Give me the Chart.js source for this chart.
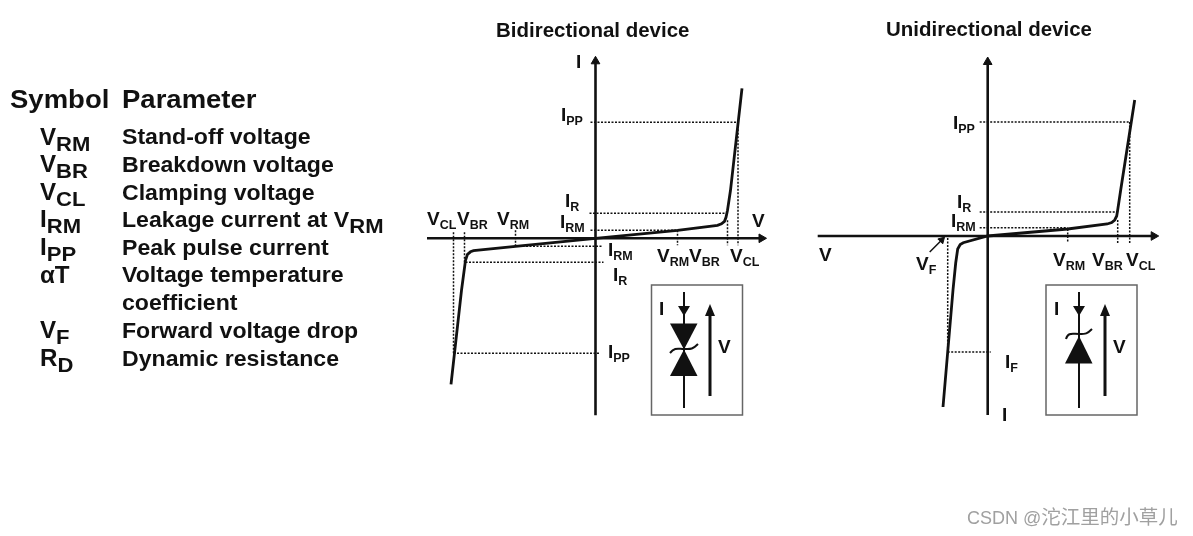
<!DOCTYPE html>
<html>
<head>
<meta charset="utf-8">
<script src="https://cdn.jsdelivr.net/npm/chart.js@4"></script>
<style>
body{margin:0;background:#fff;width:1193px;height:536px;overflow:hidden;position:relative;font-family:"Liberation Sans",Arial,sans-serif;color:#111}
canvas{position:absolute}
svg{position:absolute;left:0;top:0}
.t{position:absolute;font-weight:bold;line-height:1;white-space:nowrap;transform-origin:left center;transform:translateY(-.8465em)}
.t span{position:relative}
.h,.p,.s,.ti{transform:translateY(-.8465em) scaleX(1.05)}
.h{font-size:26.2px}
.p{font-size:22px}
.p span{font-size:21px;top:6px}
.s{font-size:23px}
.s span{font-size:21px;top:6px}
.l{font-size:19px}
.l span{font-size:12.5px;top:4px}
.ti{font-size:19.5px}
.wm{position:absolute;left:967px;top:504px;font-family:"Liberation Sans",sans-serif;font-size:18px;line-height:24px;color:#a0a0a0;white-space:nowrap}
.wm span{font-family:"Noto Sans CJK SC",sans-serif;font-size:19.5px}
</style>
</head>
<body>
<canvas id="bi" width="360" height="390" style="left:420px;top:40px"></canvas>
<canvas id="uni" width="370" height="390" style="left:800px;top:40px"></canvas>

<svg width="1193" height="536">
  <g fill="none" stroke="#666" stroke-width="1.5">
    <rect x="651.5" y="285" width="91" height="130"/>
    <rect x="1046" y="285" width="91" height="130"/>
  </g>
  <g stroke="#111" stroke-width="2" fill="none">
    <path d="M684 292V408M670 353C675 347 678 349 684 349S692 350 698 344"/>
    <path d="M1079 292V408M1066 339C1068 332 1072 334 1079 334S1087 334 1092 329"/>
  </g>
  <g stroke="#111" stroke-width="3">
    <path d="M710 396V312M1105 396V312"/>
  </g>
  <g fill="#111">
    <path d="M678 306H690L684 316Z"/>
    <path d="M670 323.5H697.5L684 349.5Z"/>
    <path d="M670 376H697.5L684 349.5Z"/>
    <path d="M710 304L715 316H705Z"/>
    <path d="M1073 306H1085L1079 316Z"/>
    <path d="M1065 363.5H1092.5L1079 336Z"/>
    <path d="M1105 304L1110 316H1100Z"/>
  </g>
</svg>

<!-- parameter table -->
<div class="t h" style="left:10px;top:108px">Symbol</div>
<div class="t h" style="left:122px;top:108px">Parameter</div>
<div class="t s" style="left:40px;top:145px">V<span>RM</span></div>
<div class="t s" style="left:40px;top:172px">V<span>BR</span></div>
<div class="t s" style="left:40px;top:200px">V<span>CL</span></div>
<div class="t s" style="left:40px;top:227px">I<span>RM</span></div>
<div class="t s" style="left:40px;top:255px">I<span>PP</span></div>
<div class="t s" style="left:40px;top:283px">αT</div>
<div class="t s" style="left:40px;top:338px">V<span>F</span></div>
<div class="t s" style="left:40px;top:366px">R<span>D</span></div>
<div class="t p" style="left:122px;top:145px">Stand-off voltage</div>
<div class="t p" style="left:122px;top:173px">Breakdown voltage</div>
<div class="t p" style="left:122px;top:201px">Clamping voltage</div>
<div class="t p" style="left:122px;top:228px">Leakage current at V<span>RM</span></div>
<div class="t p" style="left:122px;top:256px">Peak pulse current</div>
<div class="t p" style="left:122px;top:283px">Voltage temperature</div>
<div class="t p" style="left:122px;top:311px">coefficient</div>
<div class="t p" style="left:122px;top:339px">Forward voltage drop</div>
<div class="t p" style="left:122px;top:367px">Dynamic resistance</div>

<!-- bidirectional labels -->
<div class="t ti" style="left:496px;top:38px">Bidirectional device</div>
<div class="t l" style="left:576px;top:68px">I</div>
<div class="t l" style="left:561px;top:121px">I<span>PP</span></div>
<div class="t l" style="left:565px;top:207px">I<span>R</span></div>
<div class="t l" style="left:560px;top:228px">I<span>RM</span></div>
<div class="t l" style="left:752px;top:227px">V</div>
<div class="t l" style="left:427px;top:225px">V<span>CL</span></div>
<div class="t l" style="left:457px;top:225px">V<span>BR</span></div>
<div class="t l" style="left:497px;top:225px">V<span>RM</span></div>
<div class="t l" style="left:608px;top:256px">I<span>RM</span></div>
<div class="t l" style="left:613px;top:281px">I<span>R</span></div>
<div class="t l" style="left:657px;top:262px">V<span>RM</span></div>
<div class="t l" style="left:689px;top:262px">V<span>BR</span></div>
<div class="t l" style="left:730px;top:262px">V<span>CL</span></div>
<div class="t l" style="left:608px;top:358px">I<span>PP</span></div>
<div class="t l" style="left:659px;top:315px">I</div>
<div class="t l" style="left:718px;top:353px">V</div>

<!-- unidirectional labels -->
<div class="t ti" style="left:886px;top:37px">Unidirectional device</div>
<div class="t l" style="left:953px;top:129px">I<span>PP</span></div>
<div class="t l" style="left:957px;top:208px">I<span>R</span></div>
<div class="t l" style="left:951px;top:227px">I<span>RM</span></div>
<div class="t l" style="left:819px;top:261px">V</div>
<div class="t l" style="left:916px;top:270px">V<span>F</span></div>
<div class="t l" style="left:1053px;top:266px">V<span>RM</span></div>
<div class="t l" style="left:1092px;top:266px">V<span>BR</span></div>
<div class="t l" style="left:1126px;top:266px">V<span>CL</span></div>
<div class="t l" style="left:1005px;top:368px">I<span>F</span></div>
<div class="t l" style="left:1002px;top:421px">I</div>
<div class="t l" style="left:1054px;top:315px">I</div>
<div class="t l" style="left:1113px;top:353px">V</div>

<div class="wm">CSDN @<span>沱江里的小草儿</span></div>

<script>
// curves, V to the right, I upward
const biCurveV = [-144.5, -134, -130, -128, -125, -122, -80, 0, 82, 122, 126, 129, 130.5, 132, 135, 146.5];
const biCurveI = [-146, -52, -22, -16, -13.5, -12.4, -8, 0, 8, 13, 14.5, 17, 21, 28, 48, 150];
const uniCurveV = [-44.7, -34.7, -32, -30, -27.5, -24.5, 0, 80, 119.5, 124, 127, 129, 130, 133, 147];
const uniCurveI = [-171, -54, -27, -13, -8.5, -6.7, 0, 7, 12, 13.5, 16, 20, 26, 46, 136];

// dotted guides as v1, i1, v2, i2
const biGuides = [
  [-5, 116, 142.5, 116],
  [-6, 25, 132, 25],
  [-5, 8, 82, 8],
  [-80, -8, 7, -8],
  [-130, -24, 8, -24],
  [-142, -115, 5, -115],
  [-142, 6, -142, -115],
  [-131, 6, -131, -24],
  [-80, 8, -80, -8],
  [82, 8, 82, -7],
  [132, 18, 132, -7],
  [142.5, 116, 142.5, -7]
];
const uniGuides = [
  [-8, 114, 143, 114],
  [-8, 24, 130, 24],
  [-8, 8.3, 80, 8.3],
  [80, 7, 80, -7],
  [130, 16, 130, -7],
  [142, 114, 142, -7],
  [-40, -2, -40, -116],
  [-40, -116, 3, -116]
];

const biAxisV = [-168.5, 170], biAxisI = [-177, 181];
const uniAxisV = [-170, 170], uniAxisI = [-179, 178];
const vfPointerV = [-58, -46], vfPointerI = [-16, -4];

function pairs(xs, ys) {
  return xs.map((x, i) => ({x: x, y: ys[i]}));
}

function line(data, width, dash) {
  return {data: data, showLine: true, borderColor: '#111', borderWidth: width, borderDash: dash || [], pointRadius: 0, tension: 0, fill: false};
}

function drawDevice(id, curveV, curveI, guides, axisV, axisI, range, extra) {
  const sets = [
    line([{x: axisV[0], y: 0}, {x: axisV[1] - 4, y: 0}], 2.6),
    line([{x: 0, y: axisI[0]}, {x: 0, y: axisI[1] - 4}], 2.6),
    line(pairs(curveV, curveI), 2.8),
    {
      data: [{x: axisV[1] - 4, y: 0}, {x: 0, y: axisI[1] - 4}],
      showLine: false, pointStyle: 'triangle', pointRadius: 5,
      pointRotation: [90, 0], backgroundColor: '#111', borderColor: '#111', borderWidth: 1
    }
  ];
  guides.forEach(g => {
    sets.push(line([{x: g[0], y: g[1]}, {x: g[2], y: g[3]}], 1.5, [2, 1.5]));
  });
  new Chart(document.getElementById(id), {
    type: 'scatter',
    data: {datasets: sets.concat(extra || [])},
    options: {
      responsive: false,
      animation: false,
      layout: {padding: 0, autoPadding: false},
      plugins: {legend: {display: false}, tooltip: {enabled: false}},
      scales: {
        x: {type: 'linear', display: false, min: range[0], max: range[1]},
        y: {type: 'linear', display: false, min: range[2], max: range[3]}
      }
    }
  });
}

drawDevice('bi', biCurveV, biCurveI, biGuides, biAxisV, biAxisI, [-175.5, 184.5, -191.7, 198.3]);
drawDevice('uni', uniCurveV, uniCurveI, uniGuides, uniAxisV, uniAxisI, [-187.7, 182.3, -194, 196], [
  line(pairs(vfPointerV, vfPointerI), 1.5),
  {
    data: [{x: vfPointerV[1], y: vfPointerI[1]}],
    showLine: false, pointStyle: 'triangle', pointRadius: 4,
    pointRotation: 45, backgroundColor: '#111', borderColor: '#111', borderWidth: 1
  }
]);
</script>
</body>
</html>
